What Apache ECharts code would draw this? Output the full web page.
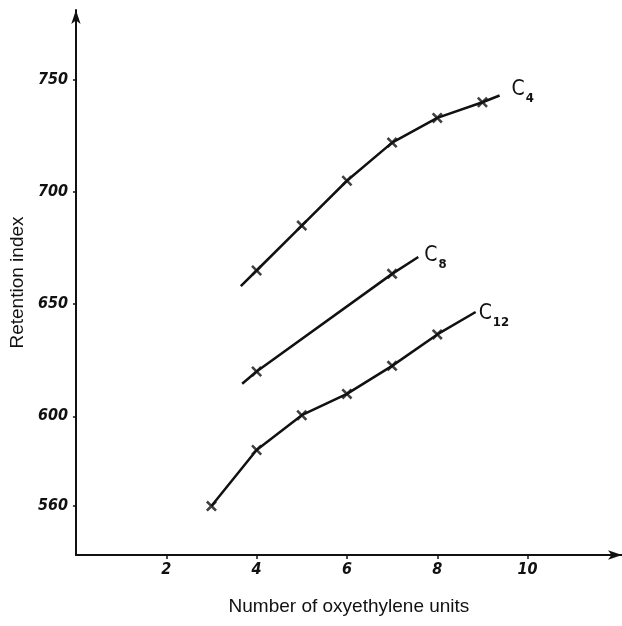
<!DOCTYPE html>
<html>
<head>
<meta charset="utf-8">
<script src="https://cdn.jsdelivr.net/npm/echarts@6/dist/echarts.min.js"></script>
<style>
  html, body { margin: 0; padding: 0; background: #ffffff; }
  #chart { width: 622px; height: 626px; }
</style>
</head>
<body>
<div id="chart"></div>
<script>
// Retention index against the number of oxyethylene units, one curve per alkyl chain.
const xTicks = [2, 4, 6, 8, 10];
const yTicks = [560, 600, 650, 700, 750];

const unitsC4 = [4, 5, 6, 7, 8, 9];
const indexC4 = [665, 685, 705, 722, 733, 740];
const lineC4Start = [3.65, 658];
const lineC4End = [9.38, 743];

const unitsC8 = [4, 7];
const indexC8 = [620, 663.5];
const lineC8Start = [3.68, 614.5];
const lineC8End = [7.58, 671];

const unitsC12 = [3, 4, 5, 6, 7, 8];
const indexC12 = [560, 585, 600.5, 610, 622.5, 636.5];
const lineC12Start = null;
const lineC12End = [8.85, 646.5];

const INK = '#111111';
const HAND = '"Liberation Sans Narrow", "DejaVu Sans Condensed", sans-serif';
const PRINT = '"Liberation Sans", Arial, sans-serif';

// hand-drawn cross used for the measured points
const CROSS = 'path://M0,2L2,0L6,4L10,0L12,2L8,6L12,10L10,12L6,8L2,12L0,10L4,6Z';

function pairs(xs, ys) {
  return xs.map((x, i) => [x, ys[i]]);
}
function curve(start, xs, ys, end) {
  return [].concat(start ? [start] : [], pairs(xs, ys), end ? [end] : []);
}

const labelRich = {
  c: { fontFamily: HAND, fontSize: 21, color: INK, lineHeight: 26, verticalAlign: 'top' },
  s: { fontFamily: HAND, fontSize: 13, fontWeight: 'bold', color: INK, lineHeight: 26, verticalAlign: 'bottom', padding: [0, 0, 0, 1] }
};

function lineSeries(name, sub, data, offset) {
  return {
    name: name,
    type: 'line',
    data: data,
    showSymbol: false,
    silent: true,
    lineStyle: { color: INK, width: 2.5 },
    endLabel: {
      show: true,
      formatter: '{c|C}{s|' + sub + '}',
      rich: labelRich,
      offset: offset
    }
  };
}

function pointSeries(name, data) {
  return {
    name: name,
    type: 'scatter',
    data: data,
    symbol: CROSS,
    symbolSize: 11,
    itemStyle: { color: INK },
    silent: true
  };
}

const chart = echarts.init(document.getElementById('chart'), null, { renderer: 'canvas' });

chart.setOption({
  animation: false,
  backgroundColor: '#ffffff',
  grid: { left: 73, right: 0, top: 10, bottom: 71, containLabel: false },
  xAxis: {
    type: 'value',
    min: 0,
    max: 12.09,
    name: 'Number of oxyethylene units',
    nameLocation: 'middle',
    nameGap: 42,
    nameTextStyle: { fontFamily: PRINT, fontSize: 19, color: INK },
    axisLine: {
      show: true,
      symbol: ['none', 'arrow'],
      symbolSize: [7, 14],
      lineStyle: { color: INK, width: 2 }
    },
    axisTick: { show: true, customValues: xTicks, length: 4, lineStyle: { color: INK, width: 1.5 } },
    axisLabel: {
      customValues: xTicks,
      margin: 7,
      fontFamily: HAND,
      fontStyle: 'italic',
      fontWeight: 'bold',
      fontSize: 16,
      color: INK
    },
    splitLine: { show: false }
  },
  yAxis: {
    type: 'value',
    min: 538.2,
    max: 781.1,
    name: 'Retention index',
    nameLocation: 'middle',
    nameRotate: 90,
    nameGap: 48,
    nameTextStyle: { fontFamily: PRINT, fontSize: 19, color: INK },
    axisLine: {
      show: true,
      symbol: ['none', 'arrow'],
      symbolSize: [7, 14],
      lineStyle: { color: INK, width: 2 }
    },
    axisTick: { show: true, customValues: yTicks, length: 3, lineStyle: { color: INK, width: 1.5 } },
    axisLabel: {
      customValues: yTicks,
      margin: 8,
      fontFamily: HAND,
      fontStyle: 'italic',
      fontWeight: 'bold',
      fontSize: 16,
      color: INK
    },
    splitLine: { show: false }
  },
  series: [
    lineSeries('C4', '4', curve(lineC4Start, unitsC4, indexC4, lineC4End), [4, -3]),
    lineSeries('C8', '8', curve(lineC8Start, unitsC8, indexC8, lineC8End), [-2, 1]),
    lineSeries('C12', '12', curve(lineC12Start, unitsC12, indexC12, lineC12End), [-5, 4])
  ].concat([
    pointSeries('C4 points', pairs(unitsC4, indexC4)),
    pointSeries('C8 points', pairs(unitsC8, indexC8)),
    pointSeries('C12 points', pairs(unitsC12, indexC12))
  ])
});
</script>
</body>
</html>
